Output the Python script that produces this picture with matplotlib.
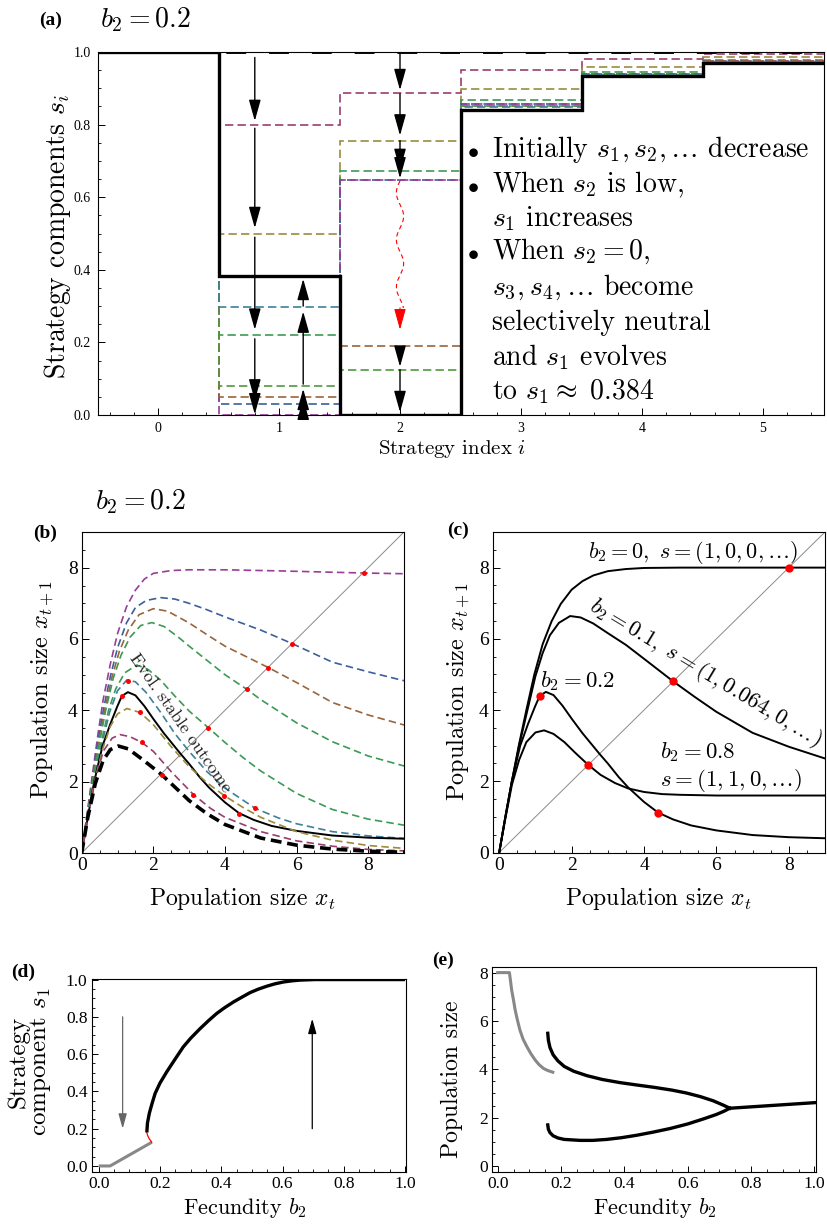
import numpy as np
import matplotlib
matplotlib.use('Agg')
import matplotlib.pyplot as plt
from matplotlib.ticker import MultipleLocator, FormatStrFormatter

W, H = 827, 1226

# ---------- (a) strategy components along the evolutionary path ----------
strat_edges = [-0.5, 0.5, 1.5, 2.5, 3.5, 4.5, 5.5]
s_start = [1.0, 1.0, 1.0, 1.0, 1.0, 1.0]
s_ess = [1.0, 0.384, 0.0, 0.840, 0.934, 0.970]
s_step1 = [1.0, 0.80, 0.888, 0.950, 0.981, 0.994]
s_step2 = [1.0, 0.50, 0.756, 0.897, 0.960, 0.985]
s_step3 = [1.0, 0.22, 0.673, 0.868, 0.946, 0.978]
s_step4 = [1.0, 0.03, 0.648, 0.857, 0.940, 0.975]
s_step5 = [1.0, 0.0, 0.648, 0.857, 0.940, 0.975]
s_step6 = [1.0, 0.05, 0.19, 0.852, 0.938, 0.974]
s_step7 = [1.0, 0.08, 0.125, 0.850, 0.937, 0.973]
s_step8 = [1.0, 0.297, 0.0, 0.848, 0.936, 0.972]
step_colors = ['#993d70', '#998c3d', '#3d9956', '#3d5f99',
               '#993d97', '#99653d', '#4f993d', '#3d8099']

# arrows (tail, tip) on s1 and s2
s1_down = [(0.985, 0.81), (0.79, 0.515), (0.49, 0.235), (0.21, 0.04), (0.03, 0.002)]
s1_up = [(0.0, 0.045), (0.048, 0.072), (0.085, 0.285), (0.30, 0.375)]
s2_down = [(0.995, 0.895), (0.885, 0.77), (0.756, 0.675), (0.673, 0.652)]
s2_late = [(0.19, 0.133), (0.125, 0.008)]
s2_jump = (0.645, 0.235)

# ---------- (b) population maps for b2 = 0.2 ----------
b_purple_x = [0, 0.15, 0.3, 0.45, 0.6, 0.8, 1.0, 1.25, 1.5, 1.75, 2.0, 2.5, 3.0, 4.0, 5.5, 7.87, 9.0]
b_purple_y = [0, 1.1, 2.2, 3.3, 4.3, 5.3, 6.15, 6.9, 7.37, 7.68, 7.84, 7.92, 7.94, 7.94, 7.91, 7.85, 7.83]
b_blue_x = [0, 0.15, 0.3, 0.45, 0.62, 0.8, 1.0, 1.25, 1.5, 1.8, 2.2, 2.6, 3.0, 3.5, 4.0, 5.0, 5.88, 7.0, 8.0, 9.0]
b_blue_y = [0, 1.05, 2.1, 3.1, 4.1, 4.95, 5.75, 6.45, 6.88, 7.08, 7.16, 7.12, 7.0, 6.82, 6.62, 6.25, 5.87, 5.35, 5.08, 4.83]
b_brown_x = [0, 0.15, 0.3, 0.46, 0.64, 0.85, 1.05, 1.3, 1.6, 2.0, 2.4, 3.0, 3.5, 4.0, 5.21, 6.0, 7.0, 8.0, 9.0]
b_brown_y = [0, 1.0, 2.0, 3.0, 4.0, 4.95, 5.65, 6.25, 6.68, 6.85, 6.78, 6.45, 6.12, 5.8, 5.2, 4.78, 4.22, 3.87, 3.59]
b_green_x = [0, 0.15, 0.31, 0.48, 0.67, 0.88, 1.1, 1.35, 1.65, 1.96, 2.3, 2.7, 3.0, 3.5, 4.0, 4.61, 5.0, 6.0, 7.0, 8.0, 9.0]
b_green_y = [0, 1.0, 2.0, 3.0, 4.0, 4.9, 5.55, 6.05, 6.38, 6.46, 6.35, 6.05, 5.8, 5.4, 5.0, 4.59, 4.3, 3.65, 3.12, 2.72, 2.44]
b_green2_x = [0, 0.16, 0.33, 0.52, 0.75, 0.95, 1.2, 1.54, 1.85, 2.2, 2.6, 3.0, 3.54, 4.0, 4.5, 5.0, 6.0, 7.0, 8.0, 9.0]
b_green2_y = [0, 1.0, 2.0, 3.0, 4.0, 4.6, 5.05, 5.27, 5.15, 4.85, 4.4, 3.98, 3.51, 3.1, 2.68, 2.3, 1.67, 1.22, 0.95, 0.78]
b_teal_x = [0, 0.16, 0.34, 0.55, 0.78, 1.0, 1.26, 1.5, 1.8, 2.2, 2.6, 3.0, 3.5, 4.0, 4.85, 5.5, 6.0, 7.0, 8.0, 9.0]
b_teal_y = [0, 1.0, 2.0, 3.0, 3.95, 4.55, 4.85, 4.8, 4.5, 3.95, 3.35, 2.85, 2.28, 1.82, 1.25, 0.98, 0.82, 0.6, 0.48, 0.41]
b_olive_x = [0, 0.17, 0.36, 0.58, 0.8, 1.0, 1.26, 1.63, 2.0, 2.5, 3.0, 3.5, 3.98, 4.5, 5.0, 6.0, 7.0, 8.0, 9.0]
b_olive_y = [0, 1.0, 2.0, 2.9, 3.55, 3.9, 4.05, 3.94, 3.6, 2.98, 2.42, 1.97, 1.61, 1.28, 1.0, 0.6, 0.36, 0.21, 0.13]
b_mauve_x = [0, 0.17, 0.37, 0.6, 0.85, 1.07, 1.35, 1.68, 2.0, 2.5, 3.12, 3.6, 4.0, 5.0, 6.0, 7.0, 8.0, 9.0]
b_mauve_y = [0, 1.0, 2.0, 2.85, 3.22, 3.32, 3.26, 3.1, 2.85, 2.28, 1.64, 1.25, 1.0, 0.6, 0.34, 0.19, 0.1, 0.06]
b_start_x = [0, 0.17, 0.38, 0.6, 0.8, 1.02, 1.3, 1.7, 2.23, 2.6, 3.0, 3.5, 4.0, 5.0, 6.0, 7.0, 8.0, 9.0]
b_start_y = [0, 1.0, 1.95, 2.6, 2.9, 3.0, 2.92, 2.62, 2.2, 1.85, 1.47, 1.1, 0.8, 0.42, 0.22, 0.11, 0.05, 0.02]

# equilibria / 2-cycles marked in (b)
dots_b_x = [7.87, 5.88, 5.21, 4.61, 3.54, 1.28, 4.85, 1.12, 4.40, 1.63, 3.98, 1.68, 3.12, 2.23]
dots_b_y = [7.85, 5.87, 5.20, 4.59, 3.51, 4.83, 1.25, 4.40, 1.10, 3.94, 1.61, 3.10, 1.64, 2.20]

# ---------- (c) population maps for several b2 ----------
c_b00_x = [0, 0.17, 0.35, 0.54, 0.75, 0.97, 1.2, 1.45, 1.7, 2.0, 2.3, 2.6, 3.0, 3.5, 4.0, 5.0, 9.0]
c_b00_y = [0, 1.0, 2.0, 3.0, 4.0, 5.0, 5.85, 6.5, 6.98, 7.38, 7.62, 7.78, 7.9, 7.96, 7.99, 8.0, 8.0]
c_b01_x = [0, 0.17, 0.35, 0.55, 0.78, 1.0, 1.2, 1.4, 1.65, 1.96, 2.25, 2.6, 3.0, 3.5, 4.0, 4.8, 5.4, 6.0, 7.0, 8.0, 9.0]
c_b01_y = [0, 1.0, 2.0, 3.0, 4.0, 4.95, 5.6, 6.1, 6.45, 6.64, 6.6, 6.43, 6.16, 5.83, 5.44, 4.81, 4.37, 3.95, 3.36, 2.97, 2.64]
c_b02_x = [0, 0.17, 0.35, 0.58, 0.8, 0.99, 1.12, 1.29, 1.5, 1.75, 2.0, 2.3, 2.6, 2.77, 3.0, 3.3,
           3.56, 4.0, 4.39, 4.8, 5.3, 6.0, 7.0, 8.0, 9.0]
c_b02_y = [0, 1.0, 2.0, 3.0, 3.62, 4.1, 4.4, 4.51, 4.42, 4.12, 3.76, 3.35, 2.98, 2.77, 2.5, 2.12,
           1.83, 1.42, 1.12, 0.93, 0.76, 0.62, 0.49, 0.43, 0.40]
c_b08_x = [0, 0.17, 0.35, 0.55, 0.75, 1.0, 1.24, 1.5, 1.8, 2.1, 2.46, 2.8, 3.2, 3.56, 4.0, 4.5, 5.0, 6.0, 9.0]
c_b08_y = [0, 0.95, 1.9, 2.6, 3.1, 3.37, 3.43, 3.33, 3.1, 2.8, 2.46, 2.18, 1.95, 1.8, 1.7, 1.64, 1.62, 1.6, 1.6]
dots_c_x = [8.0, 4.8, 2.46, 1.12, 4.39]
dots_c_y = [8.0, 4.81, 2.46, 4.40, 1.12]

# ---------- (d) ESS strategy component s1 vs fecundity ----------
d_gray_x = [0.0, 0.037, 0.173]
d_gray_y = [0.0, 0.0, 0.127]
d_red_x = [0.173, 0.164, 0.159, 0.157]
d_red_y = [0.127, 0.148, 0.166, 0.18]
d_black_x = [0.157, 0.159, 0.165, 0.174, 0.184, 0.2, 0.222, 0.25, 0.276, 0.3, 0.331, 0.36, 0.385,
             0.41, 0.44, 0.47, 0.494, 0.52, 0.548, 0.575, 0.603, 0.63, 0.657, 0.706, 1.0]
d_black_y = [0.18, 0.23, 0.282, 0.335, 0.389, 0.445, 0.505, 0.575, 0.639, 0.685, 0.737, 0.782, 0.818,
             0.848, 0.88, 0.908, 0.93, 0.948, 0.964, 0.977, 0.987, 0.993, 0.997, 1.0, 1.0]

# ---------- (e) population size vs fecundity ----------
e_gray_x = [0.0, 0.037, 0.04, 0.044, 0.05, 0.055, 0.062, 0.07, 0.08, 0.092, 0.105, 0.118, 0.13, 0.144, 0.158, 0.174]
e_gray_y = [8.0, 8.0, 7.7, 7.28, 6.85, 6.46, 6.05, 5.63, 5.25, 4.94, 4.64, 4.39, 4.2, 4.04, 3.95, 3.88]
e_upper_x = [0.158, 0.16, 0.165, 0.175, 0.19, 0.21, 0.24, 0.281, 0.33, 0.386, 0.44, 0.491, 0.55,
             0.596, 0.64, 0.68, 0.712, 0.733]
e_upper_y = [5.49, 5.2, 4.9, 4.6, 4.35, 4.12, 3.92, 3.74, 3.58, 3.45, 3.35, 3.26, 3.14,
             3.02, 2.87, 2.7, 2.52, 2.39]
e_lower_x = [0.158, 0.16, 0.165, 0.175, 0.19, 0.21, 0.26, 0.3, 0.344, 0.39, 0.438, 0.49, 0.544,
             0.6, 0.65, 0.69, 0.715, 0.733]
e_lower_y = [1.70, 1.52, 1.38, 1.25, 1.16, 1.1, 1.06, 1.06, 1.10, 1.17, 1.27, 1.4, 1.55,
             1.74, 1.95, 2.13, 2.27, 2.39]
e_flat_x = [0.733, 1.0]
e_flat_y = [2.39, 2.62]

plt.rcParams['font.family'] = 'Liberation Serif'
plt.rcParams['mathtext.fontset'] = 'cm'
plt.rcParams['axes.linewidth'] = 0.8
CM = 'cmr10'

fig = plt.figure(figsize=(W / 100, H / 100), dpi=100)


def px_axes(x0, y0, x1, y1):
    return fig.add_axes([x0 / W, 1 - y1 / H, (x1 - x0) / W, (y1 - y0) / H])


def ftext(x, y, s, **kw):
    return fig.text(x / W, 1 - y / H, s, **kw)


def style_ticks(ax, size, maj=5, mino=2.5, pad=3):
    ax.tick_params(which='both', direction='in', top=False, right=False)
    ax.tick_params(which='major', length=maj, width=0.7, labelsize=size, pad=pad)
    ax.tick_params(which='minor', length=mino, width=0.6)


def arrow(ax, tail, tip, color='black', shaft='black', lw=1.0, scale=13):
    ax.annotate('', xy=tip, xytext=tail,
                arrowprops=dict(arrowstyle='-|>,head_length=1.0,head_width=0.28',
                                color=shaft, fc=color, ec=color, lw=lw,
                                mutation_scale=scale, shrinkA=0, shrinkB=0))


# ----- panel (a) -----
ax = px_axes(97.5, 52, 823.5, 415)
steps = [s_step1, s_step2, s_step3, s_step4, s_step5, s_step6, s_step7, s_step8]
for vals, col in zip(steps, step_colors):
    ax.stairs(vals, strat_edges, baseline=None, color=col, lw=1.2,
              linestyle=(0, (5, 2.5)))
ax.stairs(s_start, strat_edges, baseline=None, color='black', lw=2.8,
          linestyle=(0, (5.1, 5.9)))
ax.stairs(s_ess, strat_edges, baseline=None, color='black', lw=2.4)

for tail, tip in s1_down:
    arrow(ax, (0.8, tail), (0.8, tip))
for tail, tip in s1_up:
    arrow(ax, (1.2, tail), (1.2, tip), shaft='#777777')
for tail, tip in s2_down:
    arrow(ax, (2.0, tail), (2.0, tip), shaft='#666666')
for tail, tip in s2_late:
    arrow(ax, (2.0, tail), (2.0, tip), shaft='#666666')

# wavy jump of s2 when it drops sharply
wy = np.linspace(s2_jump[0], s2_jump[1] + 0.06, 200)
wx = 2.0 + 0.03 * np.sin((wy - s2_jump[0]) / 0.13 * 2 * np.pi)
ax.plot(wx, wy, color='red', lw=0.8, linestyle=(0, (4, 3)))
arrow(ax, (2.0, s2_jump[1] + 0.06), (2.0, s2_jump[1]), color='red', shaft='red', lw=0.8)

ax.set_xlim(-0.5, 5.5)
ax.set_ylim(0, 1.0)
ax.set_xticks(range(6))
ax.xaxis.set_minor_locator(MultipleLocator(0.2))
ax.yaxis.set_major_locator(MultipleLocator(0.2))
ax.yaxis.set_minor_locator(MultipleLocator(0.05))
ax.yaxis.set_major_formatter(FormatStrFormatter('%.1f'))
style_ticks(ax, 10, pad=5)

ftext(51, 20, '(a)', fontsize=14, fontweight='bold', ha='center', va='center')
ftext(100, 20, r'$b_2 = 0.2$', fontsize=20, ha='left', va='center')
ftext(58, 236, r'Strategy components $s_i$', fontsize=20, family=CM,
      rotation=90, ha='center', va='center')
ftext(452, 449, r'Strategy index $i$', fontsize=15, family=CM, ha='center', va='center')

notes = [
    (157, True, r'Initially $s_1, s_2, \ldots$ decrease'),
    (192, True, r'When $s_2$ is low,'),
    (226, False, r'$s_1$ increases'),
    (259, True, r'When $s_2 = 0,$'),
    (295, False, r'$s_3, s_4, \ldots$ become'),
    (330, False, r'selectively neutral'),
    (365, False, r'and $s_1$ evolves'),
    (399, False, r'to $s_1 \approx\ 0.384$'),
]
for yb, bullet, line in notes:
    if bullet:
        ftext(467, yb, r'$\bullet$', fontsize=16, va='baseline', ha='left')
    ftext(492, yb, line, fontsize=20, family=CM, va='baseline', ha='left')

# ----- panel (b) -----
ax = px_axes(81.7, 532, 404, 853)
ax.plot([0, 9], [0, 9], color='#8a8a8a', lw=0.7)
dash = (0, (4.5, 2.5))
ax.plot(b_purple_x, b_purple_y, color='#993d97', lw=1.2, linestyle=dash)
ax.plot(b_blue_x, b_blue_y, color='#3d5f99', lw=1.2, linestyle=dash)
ax.plot(b_brown_x, b_brown_y, color='#99653d', lw=1.2, linestyle=dash)
ax.plot(b_green_x, b_green_y, color='#3d9956', lw=1.2, linestyle=dash)
ax.plot(b_green2_x, b_green2_y, color='#3d9956', lw=1.2, linestyle=dash)
ax.plot(b_teal_x, b_teal_y, color='#3d8099', lw=1.2, linestyle=dash)
ax.plot(c_b02_x, c_b02_y, color='black', lw=1.4)
ax.plot(b_olive_x, b_olive_y, color='#998c3d', lw=1.2, linestyle=dash)
ax.plot(b_mauve_x, b_mauve_y, color='#993d70', lw=1.2, linestyle=dash)
ax.plot(b_start_x, b_start_y, color='black', lw=2.6, linestyle=(0, (3, 1.6)))
ax.plot(dots_b_x, dots_b_y, 'o', color='red', ms=3.6, mec='none')
ax.text(2.75, 3.64, 'Evol. stable outcome', family=CM, fontsize=13, rotation=-55,
        ha='center', va='center', rotation_mode='anchor', color='#222222')
ax.set_xlim(0, 9)
ax.set_ylim(0, 9)
for a in (ax.xaxis, ax.yaxis):
    a.set_major_locator(MultipleLocator(2))
    a.set_minor_locator(MultipleLocator(0.5))
style_ticks(ax, 14)

ftext(95, 502, r'$b_2 = 0.2$', fontsize=20, ha='left', va='center')
ftext(45, 533, '(b)', fontsize=14, fontweight='bold', ha='center', va='center')
ftext(242, 899, r'Population size $x_t$', fontsize=17, family=CM, ha='center', va='center')
ftext(42, 690, r'Population size $x_{t+1}$', fontsize=17.5, family=CM,
      rotation=90, ha='center', va='center')

# ----- panel (c) -----
ax = px_axes(492.7, 532, 825, 852.5)
ax.plot([0, 9], [0, 9], color='#8a8a8a', lw=0.7)
for xs, ys in [(c_b00_x, c_b00_y), (c_b01_x, c_b01_y), (c_b02_x, c_b02_y), (c_b08_x, c_b08_y)]:
    ax.plot(xs, ys, color='black', lw=1.4)
ax.plot(dots_c_x, dots_c_y, 'o', color='red', ms=6, mec='none')
ax.text(2.45, 8.42, r'$b_2 = 0,\ s = (1, 0, 0, \ldots)$', fontsize=16, ha='left', va='center')
ax.text(5.69, 5.04, r'$b_2 = 0.1,\ s = (1, 0.064, 0, \ldots)$', fontsize=16,
        rotation=-31, rotation_mode='anchor', ha='center', va='center')
ax.text(1.14, 4.81, r'$b_2 = 0.2$', fontsize=16.5, ha='left', va='center')
ax.text(4.44, 2.82, r'$b_2 = 0.8$', fontsize=16.5, ha='left', va='center')
ax.text(4.44, 2.03, r'$s = (1, 1, 0, \ldots)$', fontsize=16.5, ha='left', va='center')
ax.set_xlim(-0.18, 9)
ax.set_ylim(0, 9)
for a in (ax.xaxis, ax.yaxis):
    a.set_major_locator(MultipleLocator(2))
    a.set_minor_locator(MultipleLocator(0.5))
style_ticks(ax, 14)

ftext(458, 530, '(c)', fontsize=14, fontweight='bold', ha='center', va='center')
ftext(658, 899, r'Population size $x_t$', fontsize=17, family=CM, ha='center', va='center')
ftext(458, 692, r'Population size $x_{t+1}$', fontsize=17.5, family=CM,
      rotation=90, ha='center', va='center')

# ----- panel (d) -----
ax = px_axes(91.7, 979, 406, 1172.3)
ax.plot(d_gray_x, d_gray_y, color='#888888', lw=2.2, solid_capstyle='butt')
ax.plot(d_red_x, d_red_y, color='red', lw=0.9)
ax.plot(d_black_x, d_black_y, color='black', lw=2.4, solid_capstyle='butt')
arrow(ax, (0.078, 0.8), (0.078, 0.2), color='#666666', shaft='#666666', lw=0.9, scale=9)
arrow(ax, (0.697, 0.2), (0.697, 0.79), lw=0.9, scale=9)
ax.set_xlim(-0.023, 1.003)
ax.set_ylim(-0.034, 1.003)
ax.xaxis.set_major_locator(MultipleLocator(0.2))
ax.xaxis.set_minor_locator(MultipleLocator(0.05))
ax.yaxis.set_major_locator(MultipleLocator(0.2))
ax.yaxis.set_minor_locator(MultipleLocator(0.05))
fmt = FormatStrFormatter('%.1f')
ax.xaxis.set_major_formatter(fmt)
ax.yaxis.set_major_formatter(fmt)
style_ticks(ax, 12.5, maj=4, mino=2)

ftext(23, 972, '(d)', fontsize=14, fontweight='bold', ha='center', va='center')
ftext(245, 1208, r'Fecundity $b_2$', fontsize=16, family=CM, ha='center', va='center')
ftext(30, 1062, 'Strategy\n' + r'component $s_1$', fontsize=18, family=CM,
      rotation=90, ha='center', va='center', linespacing=0.95)

# ----- panel (e) -----
ax = px_axes(491.7, 967.3, 816, 1172.3)
ax.plot(e_gray_x, e_gray_y, color='#888888', lw=2.2)
ax.plot(e_upper_x, e_upper_y, color='black', lw=2.4)
ax.plot(e_lower_x, e_lower_y, color='black', lw=2.4)
ax.plot(e_flat_x, e_flat_y, color='black', lw=2.4)
ax.set_xlim(-0.019, 1.005)
ax.set_ylim(-0.26, 8.22)
ax.xaxis.set_major_locator(MultipleLocator(0.2))
ax.xaxis.set_minor_locator(MultipleLocator(0.05))
ax.yaxis.set_major_locator(MultipleLocator(2))
ax.yaxis.set_minor_locator(MultipleLocator(0.5))
ax.xaxis.set_major_formatter(fmt)
style_ticks(ax, 12.5, maj=4, mino=2)

ftext(443, 960, '(e)', fontsize=14, fontweight='bold', ha='center', va='center')
ftext(655, 1208, r'Fecundity $b_2$', fontsize=16, family=CM, ha='center', va='center')
ftext(452, 1079, 'Population size', fontsize=17, family=CM,
      rotation=90, ha='center', va='center')

fig.savefig('out.png', dpi=100)
